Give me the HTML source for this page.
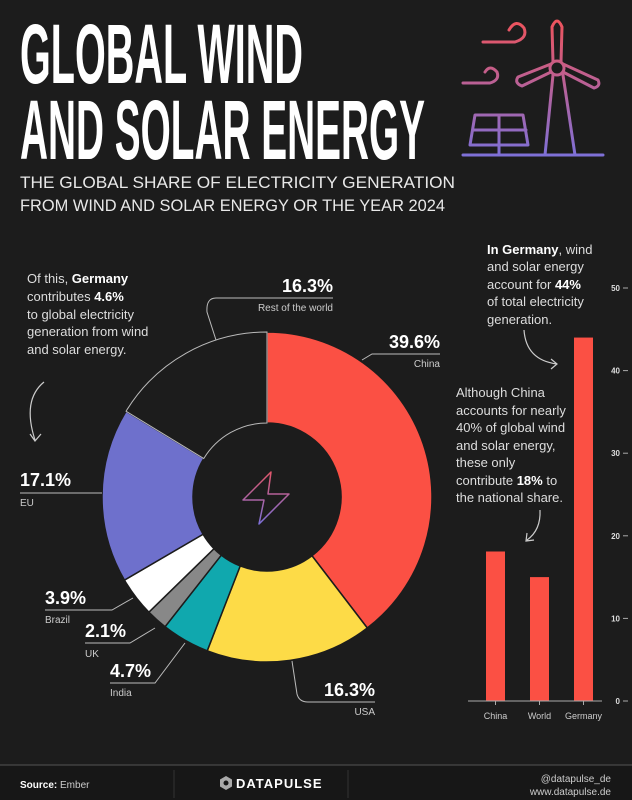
<!DOCTYPE html>
<html><head><meta charset="utf-8"><style>
html,body{margin:0;padding:0;background:#1b1b1b;}
svg{display:block;font-family:"Liberation Sans",sans-serif;}
</style></head><body>
<svg width="632" height="800" viewBox="0 0 632 800">
<defs>
<linearGradient id="ig" x1="0" y1="18" x2="0" y2="157" gradientUnits="userSpaceOnUse">
<stop offset="0" stop-color="#f0535a"/><stop offset="1" stop-color="#7d70d8"/></linearGradient>
<linearGradient id="bolt" x1="0" y1="0" x2="0" y2="1"><stop offset="0" stop-color="#e0566a"/><stop offset="1" stop-color="#7d70d8"/></linearGradient>
</defs>
<rect x="0" y="0" width="632" height="800" fill="#1c1c1c"/>
<rect x="0" y="765" width="632" height="35" fill="#171717"/>
<line x1="0" y1="765" x2="632" y2="765" stroke="#555" stroke-width="1"/>

<g fill="#fff" font-weight="bold">
<text x="20" y="83" font-size="84" textLength="283" lengthAdjust="spacingAndGlyphs">GLOBAL WIND</text>
<text x="20" y="159" font-size="84" textLength="405" lengthAdjust="spacingAndGlyphs">AND SOLAR ENERGY</text>
</g>
<g fill="#e8e8e8" font-size="17">
<text x="20" y="188" textLength="435" lengthAdjust="spacingAndGlyphs">THE GLOBAL SHARE OF ELECTRICITY GENERATION</text>
<text x="20" y="211" textLength="425" lengthAdjust="spacingAndGlyphs">FROM WIND AND SOLAR ENERGY OR THE YEAR 2024</text>
</g>

<g fill="none" stroke="url(#ig)" stroke-width="3" stroke-linecap="round" stroke-linejoin="round">
<path d="M463 155 L603 155"/>
<path d="M545 155 L553 75 M575 155 L563 75"/>
<circle cx="557" cy="68" r="7"/>
<path d="M553 62 L552 27 Q557 15 562 27 L561 62"/>
<path d="M551 72 L522 86 Q514 83 518 77 L551 64"/>
<path d="M563 72 L594 88 Q601 86 598 80 L563 64"/>
<path d="M475 115 L523 115 L528 145 L470 145 Z M473 130 L526 130 M499 115 L499 155"/>
<path d="M483 42 L515 42 Q528 38 524 28 Q516 18 509 30"/>
<path d="M463 83 L490 83 Q500 80 497 72 Q490 64 485 72"/>
</g>

<g id="donut"></g>

<g fill="none" stroke="#bbb" stroke-width="1">
<path d="M216 340 L207 312 Q206 298 216 298 L333 298"/>
<path d="M362 360 L372 354 L440 354"/>
<path d="M102 493 L20 493"/>
<path d="M133 598 L112 610 L45 610"/>
<path d="M155 628 L130 643 L85 643"/>
<path d="M185 643 L155 683 L110 683"/>
<path d="M292 661 L297 694 Q299 702 308 702 L375 702"/>
</g>
<g fill="#fff">
<text x="333" y="292" font-size="18" font-weight="bold" text-anchor="end">16.3%</text>
<text x="333" y="311" font-size="10" fill="#ccc" text-anchor="end">Rest of the world</text>
<text x="440" y="348" font-size="18" font-weight="bold" text-anchor="end">39.6%</text>
<text x="440" y="367" font-size="10" fill="#ccc" text-anchor="end">China</text>
<text x="20" y="486" font-size="18" font-weight="bold">17.1%</text>
<text x="20" y="506" font-size="10" fill="#ccc">EU</text>
<text x="45" y="604" font-size="18" font-weight="bold">3.9%</text>
<text x="45" y="623" font-size="10" fill="#ccc">Brazil</text>
<text x="85" y="637" font-size="18" font-weight="bold">2.1%</text>
<text x="85" y="657" font-size="10" fill="#ccc">UK</text>
<text x="110" y="677" font-size="18" font-weight="bold">4.7%</text>
<text x="110" y="696" font-size="10" fill="#ccc">India</text>
<text x="375" y="696" font-size="18" font-weight="bold" text-anchor="end">16.3%</text>
<text x="375" y="715" font-size="10" fill="#ccc" text-anchor="end">USA</text>
</g>
<path d="M271 472 L243 500 L264 500 L259 524 L289 494 L268 494 Z" fill="none" stroke="url(#bolt)" stroke-width="1.5" stroke-linejoin="round"/>

<g fill="#ddd" font-size="13">
<text x="27" y="283">Of this, <tspan font-weight="bold" fill="#fff">Germany</tspan></text>
<text x="27" y="301">contributes <tspan font-weight="bold" fill="#fff">4.6%</tspan></text>
<text x="27" y="319">to global electricity</text>
<text x="27" y="336">generation from wind</text>
<text x="27" y="354">and solar energy.</text>
</g>
<path d="M44 382 Q22 400 35 440 M30 434 L35 441 L41 434" fill="none" stroke="#ccc" stroke-width="1.2"/>

<g fill="#ddd" font-size="13">
<text x="487" y="254"><tspan font-weight="bold" fill="#fff">In Germany</tspan>, wind</text>
<text x="487" y="271">and solar energy</text>
<text x="487" y="289">account for <tspan font-weight="bold" fill="#fff">44%</tspan></text>
<text x="487" y="306">of total electricity</text>
<text x="487" y="324">generation.</text>
</g>
<path d="M524 330 Q526 360 557 364 M551 359 L557 364 L551 369" fill="none" stroke="#ccc" stroke-width="1.2"/>
<g fill="#ddd" font-size="13">
<text x="456" y="397">Although China</text>
<text x="456" y="415">accounts for nearly</text>
<text x="456" y="432">40% of global wind</text>
<text x="456" y="450">and solar energy,</text>
<text x="456" y="467">these only</text>
<text x="456" y="485">contribute <tspan font-weight="bold" fill="#fff">18%</tspan> to</text>
<text x="456" y="502">the national share.</text>
</g>
<path d="M540 510 Q541 530 527 540 M527 533 L526 541 L534 540" fill="none" stroke="#ccc" stroke-width="1.2"/>

<g id="bars"></g>

<g>
<text x="20" y="788" font-size="10" fill="#fff"><tspan font-weight="bold">Source:</tspan> <tspan fill="#ccc">Ember</tspan></text>
<line x1="174" y1="770" x2="174" y2="798" stroke="#333"/>
<line x1="348" y1="770" x2="348" y2="798" stroke="#333"/>
<polygon points="226,776 232,779.5 232,786.5 226,790 220,786.5 220,779.5" fill="#aaa"/>
<circle cx="226" cy="783" r="2.5" fill="#171717"/>
<text x="236" y="788" font-size="13" font-weight="bold" fill="#fff" letter-spacing="1">DATAPULSE</text>
<text x="611" y="782" font-size="10" fill="#ccc" text-anchor="end">@datapulse_de</text>
<text x="611" y="795" font-size="10" fill="#ccc" text-anchor="end">www.datapulse.de</text>
</g>

<script>
const sliceNames = ["China","USA","India","UK","Brazil","EU","Rest of the world"];
const sliceValues = [39.6,16.3,4.7,2.1,3.9,17.1,16.3];
const sliceColors = ["#fb5044","#fddb47","#10a8ae","#888888","#ffffff","#6e70cc","#1c1c1c"];
const barCats = ["China","World","Germany"];
const barValues = [18.1,15,44];
const yTicks = [0,10,20,30,40,50];
const NS = "http://www.w3.org/2000/svg";
(function(){
  const g = document.getElementById('donut');
  const cx=267, cy=497, R=165, r=74;
  const total = sliceValues.reduce((a,b)=>a+b,0);
  let a0 = 0;
  const pt=(rad,a)=>[cx+rad*Math.sin(a), cy-rad*Math.cos(a)];
  sliceValues.forEach((v,i)=>{
    const a1 = a0 + v/total*2*Math.PI;
    const large = (a1-a0)>Math.PI?1:0;
    const p1=pt(R,a0),p2=pt(R,a1),p3=pt(r,a1),p4=pt(r,a0);
    const p=document.createElementNS(NS,'path');
    p.setAttribute('d',`M${p1} A${R},${R} 0 ${large} 1 ${p2} L${p3} A${r},${r} 0 ${large} 0 ${p4} Z`);
    p.setAttribute('fill',sliceColors[i]);
    const last = i===sliceValues.length-1;
    p.setAttribute('stroke', last? '#bbb' : '#1c1c1c');
    p.setAttribute('stroke-width', last? '1' : '1.5');
    
    
    g.appendChild(p);
    a0=a1;
  });
})();
(function(){
  const g=document.getElementById('bars');
  const y0=701, pxPer=(701-288)/50;
  const ys=v=>y0-v*pxPer;
  const xs=i=>486+i*44;
  const bw=19;
  const mk=(tag,attrs)=>{const e=document.createElementNS(NS,tag);for(const k in attrs)e.setAttribute(k,attrs[k]);g.appendChild(e);return e;};
  barValues.forEach((v,i)=>{
    const b=mk('rect',{x:xs(i),y:ys(v),width:bw,height:y0-ys(v),fill:'#fb5044'});
    
    
    const t=mk('text',{x:xs(i)+bw/2,y:y0+18,'font-size':9,fill:'#ccc','text-anchor':'middle'});
    t.textContent=barCats[i];
    
    
    mk('line',{x1:xs(i)+bw/2,y1:y0,x2:xs(i)+bw/2,y2:y0+4,stroke:'#aaa'});
  });
  const ax=mk('line',{x1:468,y1:y0,x2:602,y2:y0,stroke:'#aaa'});
  
  
  yTicks.forEach(v=>{
    mk('line',{x1:623,y1:ys(v),x2:628,y2:ys(v),stroke:'#aaa'});
    const t=mk('text',{x:620,y:ys(v)+3,'font-size':8,'font-weight':'bold',fill:'#ddd','text-anchor':'end'});
    t.textContent=v;
    
    
  });
})();
</script>
</svg>
</body></html>
